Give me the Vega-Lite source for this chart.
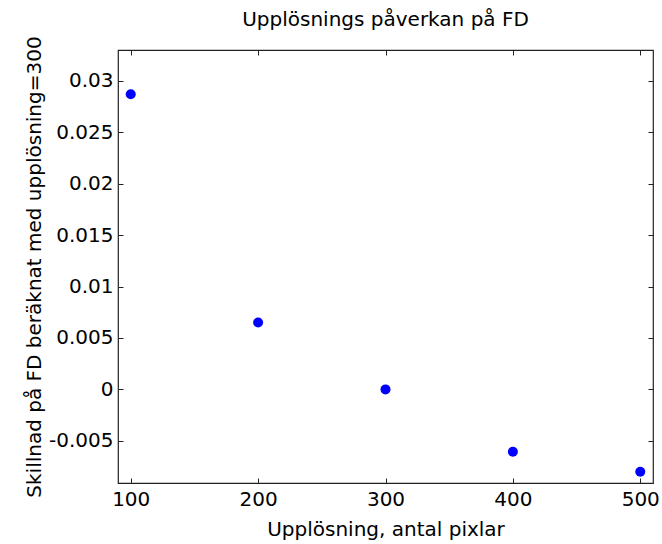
{
  "$schema": "https://vega.github.io/schema/vega-lite/v6.json",
  "width": 535,
  "height": 433,
  "autosize": {"type": "none"},
  "padding": {"left": 118, "top": 50, "right": 9, "bottom": 61},
  "background": "white",
  "config": {
    "font": "DejaVu Sans",
    "view": {"stroke": "#222", "strokeWidth": 1.2},
    "axis": {
      "domain": false,
      "grid": false,
      "tickColor": "#222",
      "tickSize": -5,
      "labelColor": "black",
      "labelFontSize": 20,
      "labelFont": "DejaVu Sans",
      "titleFont": "DejaVu Sans",
      "titleFontSize": 20,
      "titleFontWeight": "normal",
      "titleColor": "black"
    }
  },
  "title": {
    "text": "Upplösnings påverkan på FD",
    "fontSize": 20,
    "fontWeight": "normal",
    "font": "DejaVu Sans",
    "color": "black",
    "offset": 6
  },
  "data": {
    "values": [
      {"x": 100, "y": 0.0287},
      {"x": 200, "y": 0.0065},
      {"x": 300, "y": 0.0},
      {"x": 400, "y": -0.00607},
      {"x": 500, "y": -0.0080}
    ]
  },
  "layer": [
    {
      "mark": {"type": "point", "filled": true, "opacity": 1, "color": "#0000FF", "size": 100},
      "encoding": {
        "x": {
          "field": "x", "type": "quantitative",
          "scale": {"domain": [90, 510], "nice": false, "zero": false},
          "axis": {"values": [100, 200, 300, 400, 500], "title": "Upplösning, antal pixlar", "labelPadding": 11, "titlePadding": 10}
        },
        "y": {
          "field": "y", "type": "quantitative",
          "scale": {"domain": [-0.0091, 0.033], "nice": false, "zero": false},
          "axis": {
            "values": [-0.005, 0, 0.005, 0.01, 0.015, 0.02, 0.025, 0.03],
            "labelExpr": "datum.value + ''",
            "title": "Skillnad på FD beräknat med upplösning=300",
            "labelPadding": 10,
            "titlePadding": 4
          }
        }
      }
    },
    {
      "mark": {"type": "point", "opacity": 0},
      "encoding": {
        "x": {
          "field": "x", "type": "quantitative",
          "scale": {"domain": [90, 510], "nice": false, "zero": false},
          "axis": {"orient": "top", "values": [100, 200, 300, 400, 500], "labels": false, "title": null}
        },
        "y": {
          "field": "y", "type": "quantitative",
          "scale": {"domain": [-0.0091, 0.033], "nice": false, "zero": false},
          "axis": {"orient": "right", "values": [-0.005, 0, 0.005, 0.01, 0.015, 0.02, 0.025, 0.03], "labels": false, "title": null}
        }
      }
    }
  ],
  "resolve": {"axis": {"x": "independent", "y": "independent"}}
}
